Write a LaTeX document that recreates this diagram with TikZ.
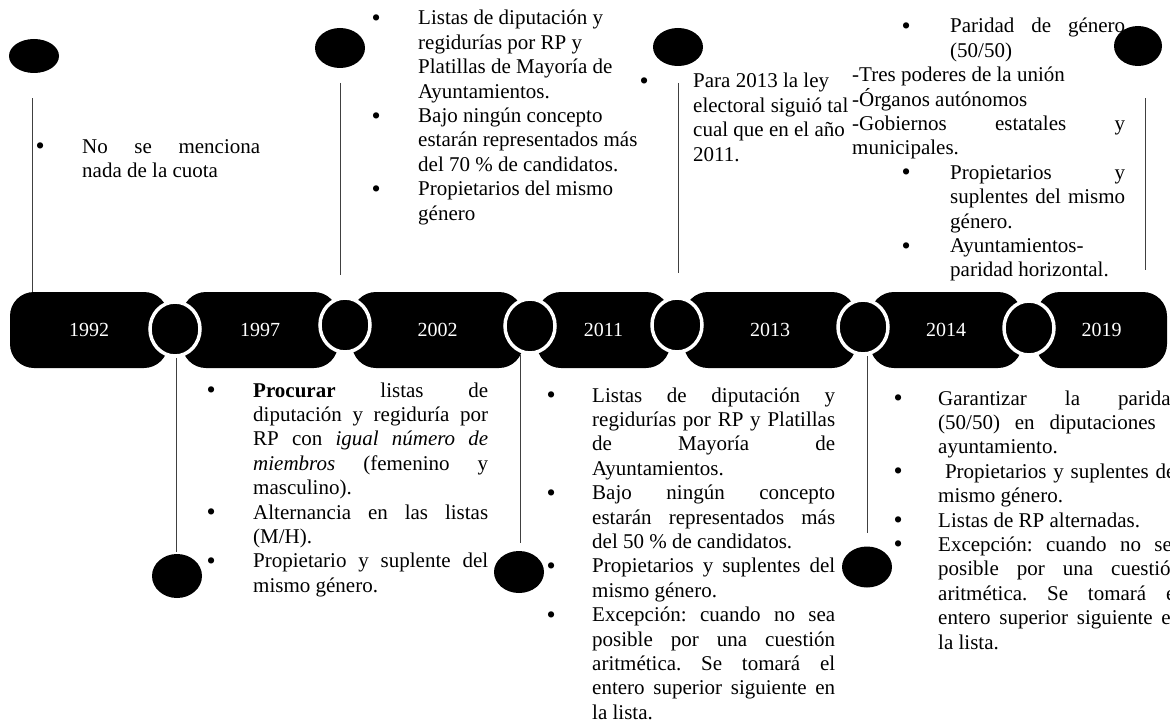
\documentclass[tikz,border=0pt]{standalone}
\usepackage{fontspec}
\setmainfont{Liberation Serif}
\usetikzlibrary{shapes.geometric}
\newcommand\bul[1]{\leavevmode\llap{\makebox[#1pt][l]{\raisebox{-1.5pt}{\fontsize{26}{0}\selectfont•}}}}
\newcommand\blk[2]{\parbox[t]{#1pt}{\fontsize{21}{24.4}\selectfont\frenchspacing\hyphenpenalty=10000 \exhyphenpenalty=10000 \tolerance=10000 #2}}
\begin{document}
\begin{tikzpicture}[x=1pt,y=-1pt,
  seg/.style={rectangle, rounded corners=24pt, fill=black, text=white, minimum height=76pt, inner sep=0pt, font=\fontsize{20}{24}\selectfont},
  ring/.style={ellipse, fill=black, draw=white, line width=3.5pt, minimum width=50pt, minimum height=54pt, inner sep=0pt},
  tdot/.style={ellipse, fill=black, minimum width=50pt, minimum height=38pt, inner sep=0pt},
  vline/.style={draw=black!75, line width=1pt},
  txt/.style={anchor=base west, inner sep=0pt}]
\useasboundingbox (0,0) rectangle (1170,725);
\clip (0,0) rectangle (1170,725);
\fill[white] (0,0) rectangle (1170,725);
% timeline segments
\node[seg, minimum width=158pt] (s1) at (89,330) {1992};
\node[seg, minimum width=156pt] (s2) at (260,330) {1997};
\node[seg, minimum width=171pt] (s3) at (437.5,330) {2002};
\node[seg, minimum width=133pt] (s4) at (603.5,330) {2011};
\node[seg, minimum width=172pt] (s5) at (770,330) {2013};
\node[seg, minimum width=152pt] (s6) at (946,330) {2014};
\node[seg, minimum width=131pt] (s7) at (1101.5,330) {2019};
% connector lines
\coordinate (l1) at (32,98);
\draw[vline] (l1) -- (l1 |- s1.north);
\coordinate (l2a) at (340,83); \coordinate (l2b) at (340,275);
\draw[vline] (l2a) -- (l2b);
\coordinate (l3a) at (678,83); \coordinate (l3b) at (678,273);
\draw[vline] (l3a) -- (l3b);
\coordinate (l4a) at (1145,98); \coordinate (l4b) at (1145,270);
\draw[vline] (l4a) -- (l4b);
% rings
\node[ring] (c1) at (175,329) {};
\node[ring] (c2) at (345,325) {};
\node[ring] (c3) at (530,326) {};
\node[ring] (c4) at (677,325) {};
\node[ring] (c5) at (863,327) {};
\node[ring] (c6) at (1029,328) {};
% bottom lines
\coordinate (m1) at (176,552);
\draw[vline] (c1.south -| m1) -- (m1);
\coordinate (m2) at (520,543);
\draw[vline] (c3.south -| m2) -- (m2);
\coordinate (m3) at (867,533);
\draw[vline] (c5.south -| m3) -- (m3);
% texts
\node[txt] (k1992) at (82,153) {\blk{178}{\bul{46.7}No se menciona\linebreak nada de la cuota}};
\node[txt] (k2002) at (418,25) {\blk{232}{\raggedright
  \bul{46.7}Listas de diputación y\\ regidurías por RP y\\ Platillas de Mayoría de\\ Ayuntamientos.\par
  \bul{46.7}Bajo ningún concepto\\ estarán representados más\\ del 70 \% de candidatos.\par
  \bul{46.7}Propietarios del mismo\\ género}};
\node[txt] (k2013) at (693,88) {\blk{165}{\raggedright
  \bul{53.7}Para 2013 la ley\\ electoral siguió tal\\ cual que en el año\\ 2011.}};
\node[txt] (k2014t) at (852,33) {\blk{273}{%
  {\leftskip=98pt \bul{48.7}Paridad de género\linebreak (50/50)\par}%
  -Tres poderes de la unión\par
  -Órganos autónomos\par
  -Gobiernos estatales y\linebreak municipales.\par
  {\leftskip=98pt \bul{48.7}Propietarios y\linebreak suplentes del mismo\linebreak género.\par
  \bul{48.7}Ayuntamientos-\linebreak paridad horizontal.\par}}};
\node[txt] (k1997) at (253,397) {\blk{235}{%
  \bul{46.7}\textbf{Procurar} listas de\linebreak diputación y regiduría por\linebreak RP con \textit{igual número de\linebreak miembros} (femenino y\linebreak masculino).\par
  \bul{46.7}Alternancia en las listas\linebreak (M/H).\par
  \bul{46.7}Propietario y suplente del\linebreak mismo género.}};
\node[txt] (k2011) at (592,402) {\blk{243}{%
  \bul{45.7}Listas de diputación y\linebreak regidurías por RP y Platillas\linebreak de Mayoría de\linebreak Ayuntamientos.\par
  \bul{45.7}Bajo ningún concepto\linebreak estarán representados más\linebreak del 50 \% de candidatos.\par
  \bul{45.7}Propietarios y suplentes del\linebreak mismo género.\par
  \bul{45.7}Excepción: cuando no sea\linebreak posible por una cuestión\linebreak aritmética. Se tomará el\linebreak entero superior siguiente en\linebreak la lista.}};
\node[txt] (k2014b) at (938,405) {\blk{243}{%
  \bul{44.7}Garantizar la paridad\linebreak (50/50) en diputaciones y\linebreak ayuntamiento.\par
  \bul{44.7}\ Propietarios y suplentes del\linebreak mismo género.\par
  \bul{44.7}Listas de RP alternadas.\par
  \bul{44.7}Excepción: cuando no sea\linebreak posible por una cuestión\linebreak aritmética. Se tomará el\linebreak entero superior siguiente en\linebreak la lista.}};
% dots
\node[tdot, minimum height=34pt] (t1) at (34,56) {};
\node[tdot, minimum height=40pt] (t2) at (340,48) {};
\node[tdot] (t3) at (678,47) {};
\node[tdot, minimum width=48pt, minimum height=40pt] (t4) at (1138,46) {};
\node[tdot, minimum height=44pt] (b1) at (177,576) {};
\node[tdot, minimum height=42pt] (b2) at (519,572) {};
\node[tdot, minimum height=41pt] (b3) at (867,567) {};
\end{tikzpicture}
\end{document}
